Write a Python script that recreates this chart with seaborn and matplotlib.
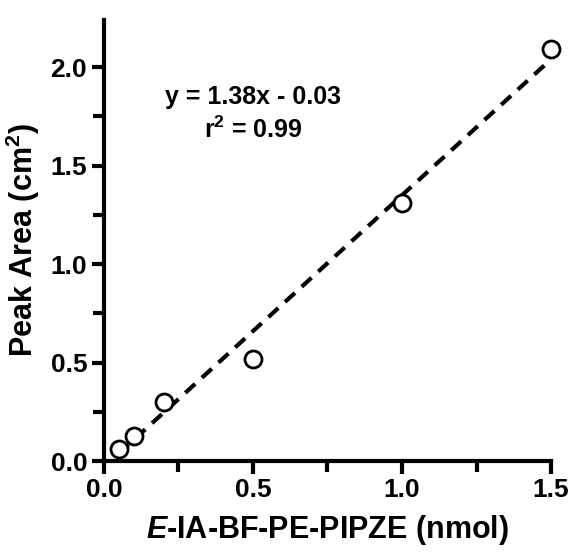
import matplotlib
import matplotlib.pyplot as plt
import pandas as pd
import seaborn as sns

matplotlib.use("Agg")

# measured calibration points
amount_nmol = [0.05, 0.1, 0.2, 0.5, 1.0, 1.5]
peak_area = [0.06, 0.13, 0.30, 0.52, 1.31, 2.09]

# reported linear fit
slope = 1.38
intercept = -0.03
fit_x = [0.05, 1.5]

sns.set_theme(style="ticks")
plt.rcParams["font.family"] = ["Liberation Sans", "DejaVu Sans"]
plt.rcParams["font.weight"] = "bold"
plt.rcParams["text.color"] = "black"
plt.rcParams["axes.labelcolor"] = "black"
plt.rcParams["mathtext.fontset"] = "custom"
plt.rcParams["mathtext.rm"] = "Liberation Sans:bold"
plt.rcParams["mathtext.bf"] = "Liberation Sans:bold"
plt.rcParams["mathtext.it"] = "Liberation Sans:bold:italic"
plt.rcParams["mathtext.bfit"] = "Liberation Sans:bold:italic"

df = pd.DataFrame({"x": amount_nmol, "y": peak_area})
fit = pd.DataFrame({"x": fit_x, "y": [slope * v + intercept for v in fit_x]})

fig = plt.figure(figsize=(5.74, 5.53), dpi=100)
ax = fig.add_axes([0.181, 0.166, 0.779, 0.798])

sns.lineplot(data=fit, x="x", y="y", ax=ax, color="black", linewidth=3,
             linestyle=(0, (3.2, 2.2)), zorder=2)
sns.scatterplot(data=df, x="x", y="y", ax=ax, marker="o", s=150,
                facecolor="white", edgecolor="black", linewidth=2,
                zorder=3, clip_on=False)

ax.set_xlim(0, 1.5)
ax.set_ylim(0, 2.24)
ax.set_xticks([0.0, 0.5, 1.0, 1.5])
ax.set_xticks([0.25, 0.75, 1.25], minor=True)
ax.set_yticks([0.0, 0.5, 1.0, 1.5, 2.0])
ax.set_yticks([0.25, 0.75, 1.25, 1.75], minor=True)
ax.set_xticklabels(["0.0", "0.5", "1.0", "1.5"])
ax.set_yticklabels(["0.0", "0.5", "1.0", "1.5", "2.0"])

for side in ["top", "right"]:
    ax.spines[side].set_visible(False)
for side in ["left", "bottom"]:
    ax.spines[side].set_linewidth(3)
    ax.spines[side].set_color("black")

ax.tick_params(which="major", length=9, width=3, labelsize=19, colors="black", pad=3)
ax.tick_params(which="minor", length=8, width=3, colors="black")
for lab in ax.get_xticklabels() + ax.get_yticklabels():
    lab.set_fontweight("bold")

ax.set_xlabel(r"$\mathbfit{E}$-IA-BF-PE-PIPZE (nmol)", fontsize=22, fontweight="bold", labelpad=8)
ax.set_ylabel(r"Peak Area (cm$^{\mathbf{2}}$)", fontsize=22, fontweight="bold", labelpad=6)

ax.text(0.50, 1.85, "y = 1.38x - 0.03", ha="center", va="center", fontsize=18, fontweight="bold")
ax.text(0.50, 1.68, r"r$^{\mathbf{2}}$ = 0.99", ha="center", va="center", fontsize=18, fontweight="bold")

fig.savefig("out.png", dpi=100)
